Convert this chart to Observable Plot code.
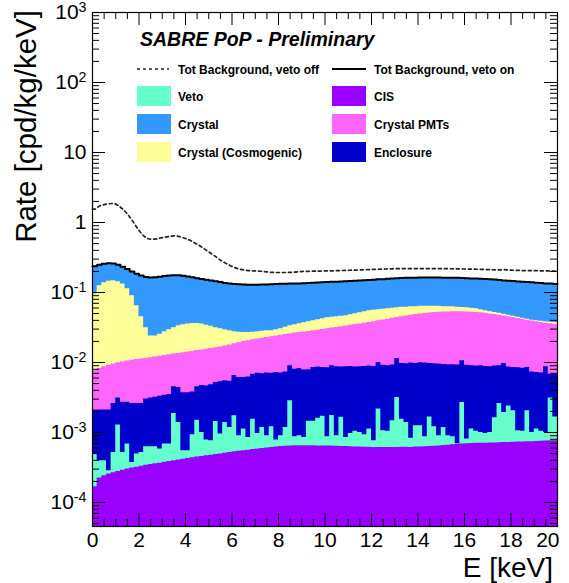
<!DOCTYPE html>
<html>
<head>
<meta charset="utf-8">
<script src="https://cdn.jsdelivr.net/npm/d3@7"></script>
<script src="https://cdn.jsdelivr.net/npm/@observablehq/plot@0.6"></script>
<style>
  html, body { margin: 0; padding: 0; background: #fff; }
  #chart svg { display: block; }
</style>
</head>
<body>
<div id="chart"></div>
<script>
// ---------------- DATA ----------------
// Energy binning: 100 bins of 0.2 keV between 0 and 20 keV
const binLow = d3.range(100).map(i => +(i * 0.2).toFixed(1));
const binWidth = 0.2;

// Stacked (cumulative) levels of the THStack, cpd/kg/keV, bottom to top
const stackCIS = [1.68e-4,2.23e-4,2.41e-4,2.55e-4,2.65e-4,2.78e-4,2.90e-4,3.00e-4,3.10e-4,3.20e-4,
 3.30e-4,3.40e-4,3.50e-4,3.58e-4,3.65e-4,3.75e-4,3.85e-4,3.95e-4,4.05e-4,4.15e-4,
 4.25e-4,4.35e-4,4.45e-4,4.55e-4,4.65e-4,4.75e-4,4.85e-4,4.95e-4,5.05e-4,5.18e-4,
 5.30e-4,5.40e-4,5.50e-4,5.60e-4,5.70e-4,5.80e-4,5.90e-4,6.00e-4,6.10e-4,6.20e-4,
 6.30e-4,6.35e-4,6.40e-4,6.45e-4,6.45e-4,6.45e-4,6.45e-4,6.45e-4,6.40e-4,6.40e-4,
 6.40e-4,6.40e-4,6.35e-4,6.30e-4,6.30e-4,6.25e-4,6.20e-4,6.20e-4,6.15e-4,6.15e-4,
 6.10e-4,6.10e-4,6.10e-4,6.10e-4,6.10e-4,6.10e-4,6.15e-4,6.15e-4,6.10e-4,6.20e-4,
 6.20e-4,6.25e-4,6.30e-4,6.35e-4,6.40e-4,6.50e-4,6.60e-4,6.70e-4,6.80e-4,6.85e-4,
 6.90e-4,6.95e-4,7.00e-4,7.00e-4,7.05e-4,7.10e-4,7.10e-4,7.15e-4,7.20e-4,7.20e-4,
 7.25e-4,7.30e-4,7.30e-4,7.35e-4,7.40e-4,7.45e-4,7.50e-4,7.55e-4,7.60e-4,7.65e-4];

const stackVeto = [4.91e-4,3.94e-4,3.94e-4,2.84e-4,5.18e-4,1.28e-3,5.18e-4,6.83e-4,3.73e-4,4.91e-4,
 5.18e-4,6.25e-4,6.25e-4,6.25e-4,5.79e-4,6.83e-4,6.83e-4,1.87e-3,1.39e-3,5.48e-4,
 5.48e-4,9.27e-4,1.50e-3,1.00e-3,7.79e-4,7.61e-4,1.44e-3,9.49e-4,1.39e-3,1.18e-3,
 1.73e-3,8.98e-4,1.12e-3,8.49e-4,1.55e-3,9.68e-4,1.18e-3,8.98e-4,1.21e-3,7.79e-4,
 8.98e-4,1.18e-3,2.84e-3,8.69e-4,8.98e-4,8.49e-4,1.45e-3,1.45e-3,1.60e-3,1.70e-3,
 8.70e-4,1.75e-3,9.00e-4,1.65e-3,8.50e-4,9.68e-4,1.04e-3,1.00e-3,9.27e-4,1.12e-3,
 7.61e-4,2.16e-3,1.06e-3,1.04e-3,1.47e-3,3.16e-3,1.55e-3,1.39e-3,8.30e-4,1.25e-3,
 1.25e-3,8.69e-4,1.67e-3,1.21e-3,8.98e-4,1.18e-3,8.98e-4,8.70e-4,6.90e-4,2.68e-3,
 8.10e-4,1.12e-3,1.04e-3,1.00e-3,9.70e-4,1.00e-3,1.62e-3,2.60e-3,1.93e-3,2.40e-3,
 2.04e-3,1.06e-3,1.04e-3,2.04e-3,1.00e-3,1.12e-3,1.04e-3,1.00e-3,3.10e-3,1.67e-3];

const stackEnclosure = [0.0021,0.0021,0.0021,0.0021,0.0026,0.0031,0.0027,0.0027,0.0026,0.0026,
 0.0026,0.0030,0.0031,0.0032,0.0033,0.0034,0.0035,0.0045,0.0044,0.0037,
 0.0037,0.0038,0.0045,0.0047,0.0046,0.0048,0.0052,0.0053,0.0055,0.0054,
 0.0065,0.0061,0.0061,0.0062,0.0068,0.0070,0.0069,0.0071,0.0070,0.0072,
 0.0071,0.0073,0.0090,0.0080,0.0082,0.0078,0.0079,0.0085,0.0086,0.0085,
 0.0084,0.0090,0.0087,0.0086,0.0087,0.0088,0.0086,0.0087,0.0088,0.0089,
 0.0088,0.0100,0.0091,0.0090,0.0092,0.0114,0.0097,0.0096,0.0098,0.0097,
 0.0099,0.0098,0.0097,0.0096,0.0095,0.0094,0.0093,0.0093,0.0092,0.0106,
 0.0091,0.0090,0.0089,0.0090,0.0088,0.0087,0.0089,0.0090,0.0097,0.0086,
 0.0085,0.0084,0.0083,0.0085,0.0073,0.0072,0.0071,0.0087,0.0068,0.0068];

const stackCrystalPMTs = [0.0076,0.0082,0.0087,0.0091,0.0095,0.0099,0.0102,0.0105,0.0108,0.0110,
 0.0112,0.0114,0.0117,0.0120,0.0123,0.0126,0.0129,0.0132,0.0135,0.0138,
 0.0141,0.0144,0.0148,0.0151,0.0154,0.0158,0.0162,0.0167,0.0172,0.0178,
 0.0185,0.0192,0.0199,0.0205,0.0211,0.0217,0.0222,0.0228,0.0234,0.0240,
 0.0246,0.0252,0.0258,0.0263,0.0268,0.0273,0.0278,0.0284,0.0290,0.0296,
 0.0303,0.0310,0.0317,0.0325,0.0333,0.0340,0.0348,0.0356,0.0364,0.0373,
 0.0383,0.0394,0.0405,0.0416,0.0428,0.0440,0.0452,0.0463,0.0474,0.0484,
 0.0494,0.0502,0.0510,0.0516,0.0521,0.0525,0.0528,0.0530,0.0531,0.0530,
 0.0528,0.0524,0.0519,0.0512,0.0504,0.0495,0.0485,0.0474,0.0462,0.0450,
 0.0438,0.0426,0.0414,0.0403,0.0393,0.0383,0.0374,0.0365,0.0357,0.0350];

const stackCosmogenic = [0.0948,0.1247,0.138,0.1445,0.147,0.142,0.132,0.113,0.0897,0.0646,
 0.045,0.0313,0.024,0.024,0.0253,0.0275,0.0293,0.0313,0.0334,0.0346,
 0.0354,0.0361,0.0361,0.0354,0.034,0.0329,0.0313,0.0303,0.0293,0.0284,
 0.0275,0.027,0.0268,0.0268,0.027,0.0275,0.028,0.0284,0.0284,0.0293,
 0.0303,0.0318,0.0334,0.0346,0.0357,0.0369,0.0381,0.0394,0.0407,0.0421,
 0.0435,0.0443,0.045,0.0458,0.0465,0.048,0.0496,0.0513,0.053,0.0548,
 0.0557,0.0566,0.0575,0.0585,0.0595,0.0604,0.0614,0.0614,0.0625,0.0625,
 0.0635,0.0635,0.0635,0.0635,0.0635,0.0625,0.0625,0.0625,0.0614,0.0611,
 0.0604,0.0595,0.0585,0.0566,0.0548,0.053,0.0518,0.0505,0.0488,0.0472,
 0.0458,0.0443,0.0428,0.0414,0.04,0.0394,0.0387,0.0381,0.0375,0.0372];

// Top of the stack (Crystal layer) = total background, veto on
const totalVetoOn = [0.238,0.250,0.257,0.261,0.259,0.250,0.234,0.216,0.199,0.186,
 0.175,0.167,0.164,0.165,0.168,0.172,0.175,0.176,0.176,0.173,
 0.169,0.165,0.160,0.156,0.152,0.148,0.145,0.141,0.137,0.134,
 0.132,0.131,0.130,0.129,0.129,0.129,0.130,0.130,0.131,0.132,
 0.133,0.133,0.134,0.134,0.135,0.136,0.137,0.138,0.139,0.140,
 0.141,0.142,0.143,0.144,0.145,0.146,0.147,0.148,0.150,0.151,
 0.152,0.154,0.155,0.157,0.159,0.160,0.161,0.162,0.163,0.163,
 0.164,0.164,0.164,0.164,0.164,0.163,0.163,0.162,0.162,0.161,
 0.160,0.159,0.158,0.157,0.156,0.154,0.153,0.151,0.149,0.147,
 0.146,0.144,0.143,0.141,0.140,0.138,0.137,0.135,0.134,0.132];

const totalVetoOff = [1.55,1.72,1.80,1.85,1.87,1.75,1.55,1.32,1.08,0.86,
 0.70,0.61,0.58,0.58,0.60,0.615,0.63,0.645,0.635,0.605,
 0.575,0.535,0.49,0.445,0.40,0.36,0.325,0.29,0.265,0.245,
 0.228,0.217,0.21,0.206,0.204,0.203,0.200,0.197,0.194,0.193,
 0.193,0.193,0.194,0.196,0.198,0.200,0.201,0.202,0.202,0.203,
 0.204,0.204,0.205,0.206,0.207,0.208,0.209,0.210,0.211,0.212,
 0.214,0.215,0.216,0.217,0.218,0.219,0.219,0.220,0.220,0.220,
 0.220,0.220,0.220,0.220,0.219,0.219,0.219,0.218,0.218,0.217,
 0.216,0.216,0.215,0.214,0.213,0.212,0.211,0.210,0.212,0.209,
 0.208,0.207,0.206,0.206,0.205,0.205,0.204,0.204,0.203,0.203];

// Legend entries and colours
const layerNames  = ["Crystal", "Crystal (Cosmogenic)", "Crystal PMTs", "Enclosure", "Veto", "CIS"];
const layerColors = ["#3399ff", "#ffff99", "#ff66ff", "#0000cc", "#66ffcc", "#9900ff"];
const layerLevels = [totalVetoOn, stackCosmogenic, stackCrystalPMTs, stackEnclosure, stackVeto, stackCIS];

const xTickValues = [0, 2, 4, 6, 8, 10, 12, 14, 16, 18, 20];
const yTickValues = [1e-4, 1e-3, 1e-2, 1e-1, 1, 10, 100, 1000];

// ---------------- LAYOUT ----------------
const W = 569, H = 583;
const mL = 92, mR = 12, mT = 12, mB = 57;
const PW = W - mL - mR, PH = H - mT - mB;
const yMin = Math.pow(10, 3 - PH / 70); // 70 px per decade
const FONT = "'Liberation Sans', Arial, Helvetica, sans-serif";

// histogram outline points
const stepPts = vals => vals.flatMap((v, i) => [{x: binLow[i], y: v}, {x: binLow[i] + binWidth, y: v}]);
// smooth curve through bin centres, held flat to the axis ends
const centrePts = vals => [{x: 0, y: vals[0]},
  ...vals.map((v, i) => ({x: binLow[i] + binWidth / 2, y: v})),
  {x: 20, y: vals[vals.length - 1]}];

const minorY = [];
for (let e = -5; e <= 2; e++) for (let m = 2; m <= 9; m++) {
  const v = m * Math.pow(10, e);
  if (v > yMin && v < 1000) minorY.push(v);
}
const minorX = d3.range(0, 20.001, 0.5).filter(v => Math.abs(v / 2 - Math.round(v / 2)) > 1e-6);

const areaMarks = layerLevels.map((lv, k) =>
  Plot.areaY(stepPts(lv), {x: "x", y1: () => yMin, y2: "y", fill: layerColors[k], curve: "linear"})
);

const fmtY = d => d === 1 ? "1" : d === 10 ? "10" : "10^" + Math.round(Math.log10(d));

const chart = Plot.plot({
  width: W, height: H,
  marginLeft: mL, marginRight: mR, marginTop: mT, marginBottom: mB,
  style: {fontFamily: FONT, color: "#000", background: "#fff"},
  x: {domain: [0, 20]},
  y: {type: "log", domain: [yMin, 1000]},
  marks: [
    ...areaMarks,
    Plot.line(centrePts(totalVetoOff), {x: "x", y: "y", stroke: "#222", strokeWidth: 1.7, strokeDasharray: "3,3", curve: "monotone-x"}),
    Plot.line(stepPts(totalVetoOn), {x: "x", y: "y", stroke: "#000", strokeWidth: 2}),
    // inward ticks (ROOT style) on all four sides
    Plot.tickY(yTickValues, {y: d => d, insetRight: PW - 13, stroke: "#000"}),
    Plot.tickY(yTickValues, {y: d => d, insetLeft: PW - 13, stroke: "#000"}),
    Plot.tickY(minorY, {y: d => d, insetRight: PW - 7, stroke: "#000"}),
    Plot.tickY(minorY, {y: d => d, insetLeft: PW - 7, stroke: "#000"}),
    Plot.tickX(xTickValues, {x: d => d, insetTop: PH - 13, stroke: "#000"}),
    Plot.tickX(xTickValues, {x: d => d, insetBottom: PH - 13, stroke: "#000"}),
    Plot.tickX(minorX, {x: d => d, insetTop: PH - 7, stroke: "#000"}),
    Plot.tickX(minorX, {x: d => d, insetBottom: PH - 7, stroke: "#000"}),
    Plot.frame({stroke: "#000", strokeWidth: 1.2}),
    Plot.axisY(yTickValues, {tickSize: 0, tickPadding: 6, fontSize: 21, tickFormat: fmtY, label: null}),
    Plot.axisX(xTickValues, {tickSize: 0, tickPadding: 6, fontSize: 21, label: null})
  ]
});

document.getElementById("chart").appendChild(chart);
const svg = d3.select(chart);

// superscripts for the log labels
svg.selectAll('g[aria-label="y-axis tick label"] text').each(function() {
  const t = this.textContent;
  const m = t.match(/^10\^(.+)$/);
  if (m) {
    const sel = d3.select(this);
    sel.text(null);
    sel.append("tspan").text("10");
    sel.append("tspan").attr("dy", "-0.5em").attr("font-size", "0.68em").text(m[1]);
  }
});
// last x label kept inside the frame, as in the reference
svg.selectAll('g[aria-label="x-axis tick label"] text').each(function() {
  if (this.textContent === "20") d3.select(this).attr("text-anchor", "end").attr("dx", 2);
});

// axis titles
svg.append("text")
  .attr("transform", "translate(36,10) rotate(-90)")
  .attr("text-anchor", "end").attr("font-size", 29.5).attr("font-family", FONT)
  .text("Rate [cpd/kg/keV]");
svg.append("text")
  .attr("x", 553).attr("y", 577)
  .attr("text-anchor", "end").attr("font-size", 28).attr("font-family", FONT)
  .text("E [keV]");

// in-frame legend
const lg = svg.append("g").attr("font-family", FONT).attr("text-anchor", "start");
lg.append("text").attr("x", 140).attr("y", 46).attr("text-anchor", "start")
  .attr("font-size", 19.5).attr("font-weight", "bold").attr("font-style", "italic")
  .text("SABRE PoP - Preliminary");
lg.append("line").attr("x1", 137).attr("x2", 169).attr("y1", 69).attr("y2", 69)
  .attr("stroke", "#222").attr("stroke-width", 1.7).attr("stroke-dasharray", "3,3");
lg.append("text").attr("x", 178).attr("y", 73.5).attr("text-anchor", "start").attr("font-size", 12).attr("font-weight", "bold")
  .text("Tot Background, veto off");
lg.append("line").attr("x1", 332).attr("x2", 366).attr("y1", 69).attr("y2", 69)
  .attr("stroke", "#000").attr("stroke-width", 2);
lg.append("text").attr("x", 374).attr("y", 73.5).attr("text-anchor", "start").attr("font-size", 12).attr("font-weight", "bold")
  .text("Tot Background, veto on");

const legendOrder = [["Veto", "CIS"], ["Crystal", "Crystal PMTs"], ["Crystal (Cosmogenic)", "Enclosure"]];
const colX = [137, 332], textX = [178, 374], rowY = [86, 114, 142];
legendOrder.forEach((row, r) => row.forEach((name, c) => {
  const col = layerColors[layerNames.indexOf(name)];
  lg.append("rect").attr("x", colX[c]).attr("y", rowY[r]).attr("width", 34).attr("height", 20).attr("fill", col);
  lg.append("text").attr("x", textX[c]).attr("y", rowY[r] + 14.5).attr("text-anchor", "start")
    .attr("font-size", 12).attr("font-weight", "bold").text(name);
}));
</script>
</body>
</html>
